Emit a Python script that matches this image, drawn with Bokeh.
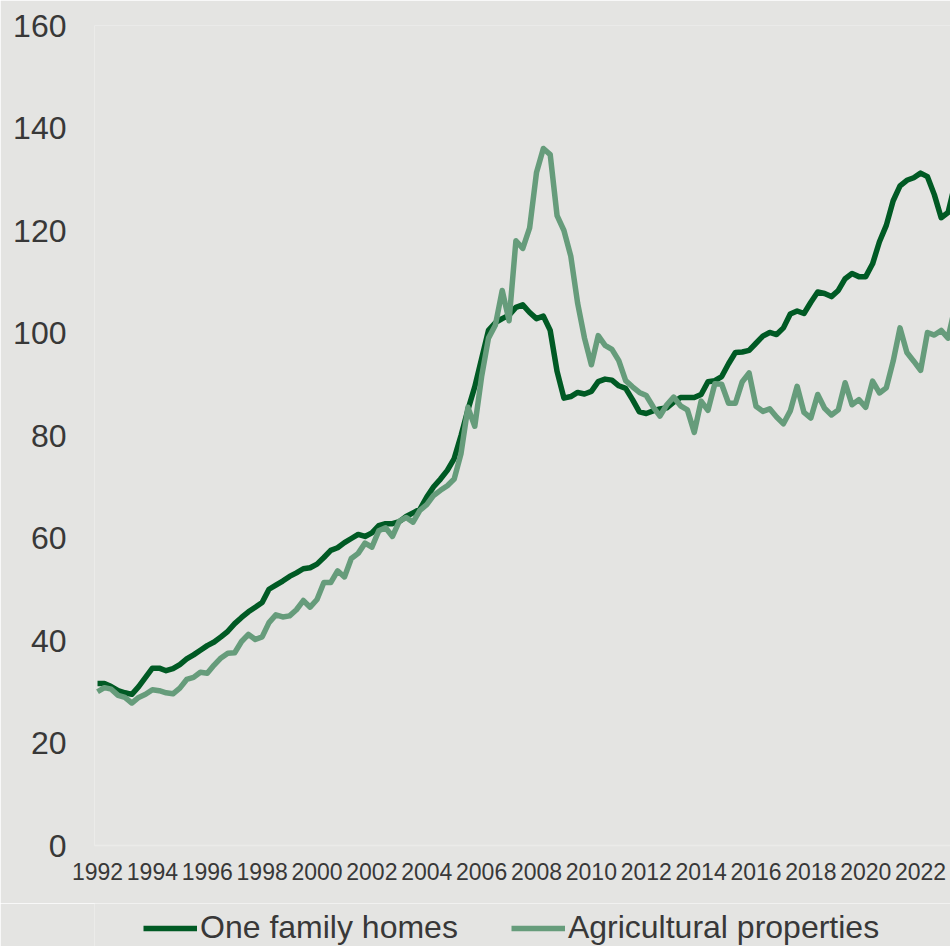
from bokeh.plotting import figure
from bokeh.layouts import column
from bokeh.models import ColumnDataSource, FixedTicker, Legend, LegendItem, Range1d
from bokeh.embed import file_html
from bokeh.resources import INLINE

# ---- data (quarterly, starting 1992 Q1) ----
start_year = 1992
one_family_homes = [
    31.6, 31.6, 31.0, 30.2, 29.8, 29.5, 31.0, 32.8, 34.6, 34.6, 34.1, 34.5,
    35.3, 36.4, 37.2, 38.1, 39.0, 39.7, 40.7, 41.8, 43.3, 44.5, 45.6, 46.5,
    47.4, 50.0, 50.8, 51.6, 52.5, 53.2, 54.0, 54.2, 54.9, 56.2, 57.6, 58.1,
    59.1, 59.9, 60.7, 60.3, 61.0, 62.4, 62.8, 62.8, 63.2, 64.2, 64.9, 65.6,
    68.0, 70.0, 71.5, 73.2, 75.5, 80.0, 85.0, 89.5, 95.0, 100.5, 102.0, 102.8,
    103.5, 105.0, 105.5, 104.0, 102.8, 103.3, 100.5, 92.5, 87.3, 87.6, 88.4, 88.1,
    88.6, 90.5, 91.0, 90.8, 89.7, 89.2, 87.0, 84.6, 84.3, 84.8, 85.2, 85.4,
    86.5, 87.4, 87.4, 87.4, 88.0, 90.5, 90.7, 91.5, 94.0, 96.2, 96.3, 96.6,
    98.0, 99.4, 100.1, 99.7, 101.0, 103.7, 104.3, 103.8, 106.0, 108.0, 107.7, 107.1,
    108.3, 110.6, 111.6, 111.0, 111.0, 113.5, 117.8, 121.0, 125.8, 128.7, 129.8, 130.3,
    131.2, 130.5, 127.0, 122.5, 123.5, 129.0,
]
agricultural_properties = [
    30.0, 30.8, 30.5, 29.3, 28.9, 27.8, 28.9, 29.5, 30.4, 30.2, 29.8, 29.6,
    30.7, 32.4, 32.8, 33.8, 33.6, 35.2, 36.6, 37.5, 37.6, 39.8, 41.2, 40.2,
    40.7, 43.5, 45.0, 44.6, 44.8, 46.0, 47.8, 46.5, 48.0, 51.3, 51.3, 53.6,
    52.4, 56.0, 57.0, 59.0, 58.2, 61.4, 62.0, 60.3, 63.3, 64.0, 63.1, 65.4,
    66.5, 68.3, 69.3, 70.2, 71.5, 76.5, 85.5, 81.8, 91.5, 99.0, 101.5, 108.3,
    102.4, 118.0, 116.5, 120.5, 131.3, 136.0, 134.8, 122.9, 120.0, 115.0, 105.8, 99.0,
    93.8, 99.5, 97.6, 96.8, 94.6, 90.7, 89.5, 88.4, 87.8, 85.6, 83.8, 86.0,
    87.5, 85.8, 85.0, 80.6, 86.7, 84.9, 90.1, 90.0, 86.3, 86.3, 90.5, 92.2,
    85.7, 84.7, 85.2, 83.6, 82.3, 84.8, 89.6, 84.5, 83.4, 88.0, 85.3, 84.0,
    85.0, 90.3, 86.0, 87.0, 85.5, 90.6, 88.3, 89.3, 94.5, 101.0, 96.2, 94.5,
    92.7, 100.1, 99.6, 100.5, 99.0, 105.0,
]
tick_years = list(range(1992, 2023, 2))
y_ticks = [0, 20, 40, 60, 80, 100, 120, 140, 160]
series_names = ["One family homes", "Agricultural properties"]

period = [start_year + i / 4 for i in range(len(one_family_homes))]
src = ColumnDataSource(dict(x=period, homes=one_family_homes, agri=agricultural_properties))

BG = "#e4e4e2"
DARK = "#005a24"
LIGHT = "#669c7b"
TXT = "#383838"
LW = 5.5

p = figure(width=950, height=903, output_backend="svg", toolbar_location=None,
           x_range=Range1d(1991.89, 2023.09), y_range=Range1d(0, 160),
           min_border_left=94, min_border_right=0, min_border_top=25, min_border_bottom=58,
           background_fill_color=BG, border_fill_color=BG, outline_line_color=None)

p.xgrid.visible = False
p.ygrid.visible = False

p.line("x", "homes", source=src, line_color=DARK, line_width=LW, line_join="round")
p.line("x", "agri", source=src, line_color=LIGHT, line_width=LW, line_join="round")

# y axis
p.yaxis.ticker = FixedTicker(ticks=y_ticks)
p.yaxis.axis_line_color = None
p.yaxis.major_tick_line_color = None
p.yaxis.minor_tick_line_color = None
p.yaxis.major_tick_out = 0
p.yaxis.major_tick_in = 0
p.yaxis.major_label_standoff = 28
p.yaxis.major_label_text_font = "Liberation Sans"
p.yaxis.major_label_text_font_size = "32px"
p.yaxis.major_label_text_color = TXT

# x axis
p.xaxis.ticker = FixedTicker(ticks=tick_years)
p.xaxis.axis_line_color = "#ebebe9"
p.xaxis.axis_line_width = 1.5
p.xaxis.major_tick_line_color = None
p.xaxis.minor_tick_line_color = None
p.xaxis.major_tick_out = 0
p.xaxis.major_tick_in = 0
p.xaxis.major_label_standoff = 17
p.xaxis.major_label_text_font = "Liberation Sans"
p.xaxis.major_label_text_font_size = "23px"
p.xaxis.major_label_text_color = TXT

# legend strip (separate figure directly below; its one-point lines draw nothing)
leg_src = ColumnDataSource(dict(x=period[:1], homes=one_family_homes[:1],
                                agri=agricultural_properties[:1]))
p2 = figure(width=950, height=43, output_backend="svg", toolbar_location=None,
            x_axis_type=None, y_axis_type=None,
            x_range=Range1d(0, 1), y_range=Range1d(0, 1), min_border=0,
            background_fill_color=BG, border_fill_color=BG, outline_line_color=None)
p2.xgrid.visible = False
p2.ygrid.visible = False
l1 = p2.line("x", "homes", source=leg_src, line_color=DARK, line_width=LW)
l2 = p2.line("x", "agri", source=leg_src, line_color=LIGHT, line_width=LW)
legend = Legend(items=[LegendItem(label=series_names[0], renderers=[l1]),
                       LegendItem(label=series_names[1], renderers=[l2])],
                orientation="horizontal", location=(49, 0),
                background_fill_alpha=0, border_line_color=None,
                padding=0, margin=0, spacing=53, label_standoff=3,
                glyph_width=54, glyph_height=34, label_height=34,
                label_text_font="Liberation Sans", label_text_font_size="32px",
                label_text_color=TXT)
p2.add_layout(legend, "center")

layout = column(p, p2, spacing=0)
open("out.html", "w").write(file_html(layout, INLINE))
